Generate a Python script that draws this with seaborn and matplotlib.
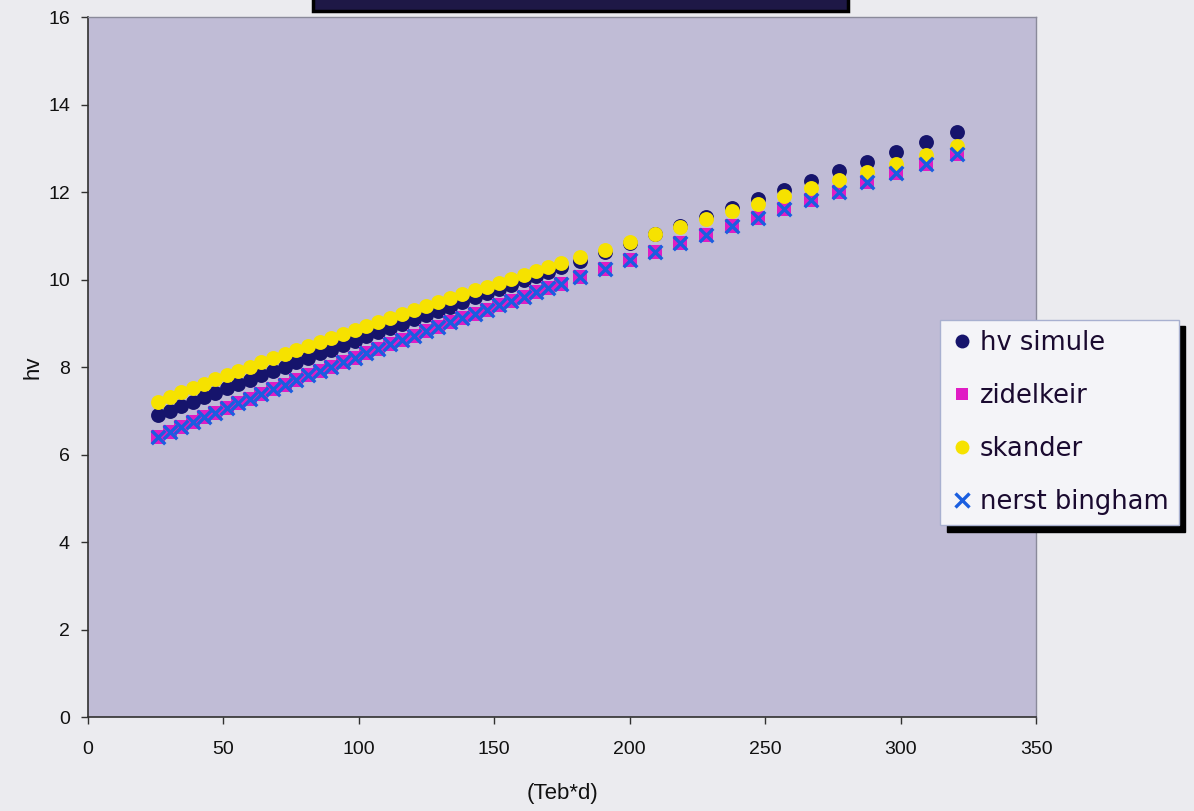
import pandas as pd
import seaborn as sns
import matplotlib.pyplot as plt
from matplotlib.lines import Line2D
from matplotlib.patches import Rectangle

# abscisses (Teb*d) : zone dense puis zone espacee
teb_d = [26.0, 30.2, 34.4, 38.6, 42.8, 47.0, 51.2, 55.4, 59.7, 64.0,
         68.3, 72.6, 76.9, 81.2, 85.5, 89.8, 94.1, 98.4, 102.8, 107.2,
         111.6, 116.0, 120.4, 124.8, 129.2, 133.7, 138.2, 142.7, 147.2, 151.7,
         156.2, 160.8, 165.4, 170.0, 174.6,
         181.6, 190.8, 200.0, 209.3, 218.6, 228.0, 237.6, 247.3, 257.0, 267.0,
         277.2, 287.6, 298.3, 309.5, 321.0]

hv_simule = [6.90, 7.00, 7.11, 7.21, 7.31, 7.41, 7.51, 7.61, 7.71, 7.81,
             7.91, 8.01, 8.11, 8.21, 8.31, 8.40, 8.50, 8.60, 8.70, 8.80,
             8.89, 8.99, 9.09, 9.19, 9.28, 9.38, 9.49, 9.59, 9.69, 9.78,
             9.88, 9.98, 10.08, 10.18, 10.28,
             10.43, 10.63, 10.83, 11.03, 11.23, 11.43, 11.64, 11.84, 12.04, 12.25,
             12.47, 12.69, 12.91, 13.14, 13.38]

zidelkeir = [6.39, 6.51, 6.62, 6.74, 6.85, 6.96, 7.07, 7.17, 7.28, 7.39,
             7.49, 7.60, 7.70, 7.81, 7.91, 8.01, 8.11, 8.21, 8.32, 8.42,
             8.52, 8.62, 8.72, 8.82, 8.91, 9.02, 9.12, 9.21, 9.31, 9.41,
             9.51, 9.61, 9.71, 9.81, 9.90,
             10.06, 10.25, 10.44, 10.63, 10.83, 11.02, 11.22, 11.41, 11.61, 11.81,
             12.01, 12.22, 12.43, 12.65, 12.87]

skander = [7.21, 7.32, 7.42, 7.52, 7.62, 7.72, 7.82, 7.92, 8.01, 8.11,
           8.21, 8.30, 8.39, 8.49, 8.58, 8.67, 8.76, 8.85, 8.94, 9.04,
           9.13, 9.22, 9.31, 9.39, 9.48, 9.58, 9.66, 9.75, 9.84, 9.93,
           10.02, 10.11, 10.20, 10.29, 10.37,
           10.51, 10.68, 10.86, 11.03, 11.20, 11.38, 11.56, 11.73, 11.91, 12.09,
           12.27, 12.46, 12.64, 12.84, 13.05]

# nerst bingham se superpose a zidelkeir sur le graphique
nerst_bingham = list(zidelkeir)

series = ["hv simule", "zidelkeir", "skander", "nerst bingham"]

df = pd.DataFrame({
    "Teb*d": teb_d,
    "hv simule": hv_simule,
    "zidelkeir": zidelkeir,
    "skander": skander,
    "nerst bingham": nerst_bingham,
}).melt(id_vars="Teb*d", var_name="serie", value_name="hv")

styles = {
    "hv simule": dict(marker="o", color="#16146c", s=115, linewidth=0),
    "zidelkeir": dict(marker="s", color="#e01cc4", s=95, linewidth=0),
    "skander": dict(marker="o", color="#f6e200", s=115, linewidth=0),
    "nerst bingham": dict(marker="x", color="#1a5ee0", s=95, linewidth=2.4),
}

sns.set_style("ticks")
plt.rcParams["font.family"] = ["Liberation Sans", "DejaVu Sans"]

fig = plt.figure(figsize=(11.94, 8.11), dpi=100, facecolor="#ebebef")
ax = fig.add_axes([0.0737, 0.1159, 0.794, 0.8631])
ax.set_facecolor("#c0bcd6")

for name in series:
    sub = df[df["serie"] == name]
    sns.scatterplot(data=sub, x="Teb*d", y="hv", ax=ax, legend=False, **styles[name])

ax.set_xlim(0, 350)
ax.set_ylim(0, 16)
ax.set_xticks(range(0, 351, 50))
ax.set_yticks(range(0, 17, 2))
ax.tick_params(direction="out", length=5, width=1, color="#303030",
               labelsize=14, labelcolor="#111111")
ax.tick_params(axis="x", pad=12)
ax.tick_params(axis="y", pad=8)
for side in ["left", "bottom"]:
    ax.spines[side].set_color("#303030")
    ax.spines[side].set_linewidth(1.2)
for side in ["top", "right"]:
    ax.spines[side].set_color("#8a8a9a")
    ax.spines[side].set_linewidth(1.0)

ax.set_xlabel("(Teb*d)", fontsize=16, labelpad=18, color="#111111")
ax.set_ylabel("hv", fontsize=16, labelpad=3, color="#111111")

# boite de titre coupee en haut de l'image
fig.add_artist(Rectangle((313 / 1194, 1 - 11 / 811), 535 / 1194, 20 / 811,
                         transform=fig.transFigure, facecolor="#1e1846",
                         edgecolor="#000000", linewidth=2.5, clip_on=False))

handles = []
for name in series:
    st = styles[name]
    if st["marker"] == "x":
        h = Line2D([], [], linestyle="", marker="x", color=st["color"],
                   markersize=10, markeredgewidth=2.4)
    else:
        h = Line2D([], [], linestyle="", marker=st["marker"], color=st["color"],
                   markersize=10 if st["marker"] == "o" else 9, markeredgewidth=0)
    handles.append(h)

leg = fig.legend(handles, series, loc="upper left",
                 bbox_to_anchor=(0.787, 0.606),
                 prop={"family": ["DejaVu Sans"], "size": 18.5},
                 frameon=True, fancybox=False, labelspacing=1.05,
                 handletextpad=0.25, handlelength=0.9, borderpad=0.4,
                 borderaxespad=0,
                 shadow={"ox": 5, "oy": -5, "color": "#000000", "alpha": 1})
leg.get_frame().set_facecolor("#f4f4f8")
leg.get_frame().set_edgecolor("#a8b0d0")
leg.get_frame().set_linewidth(1.0)
leg.get_frame().set_alpha(1)
for t in leg.get_texts():
    t.set_color("#1a0a30")

fig.savefig("out.png", dpi=100, facecolor=fig.get_facecolor())
